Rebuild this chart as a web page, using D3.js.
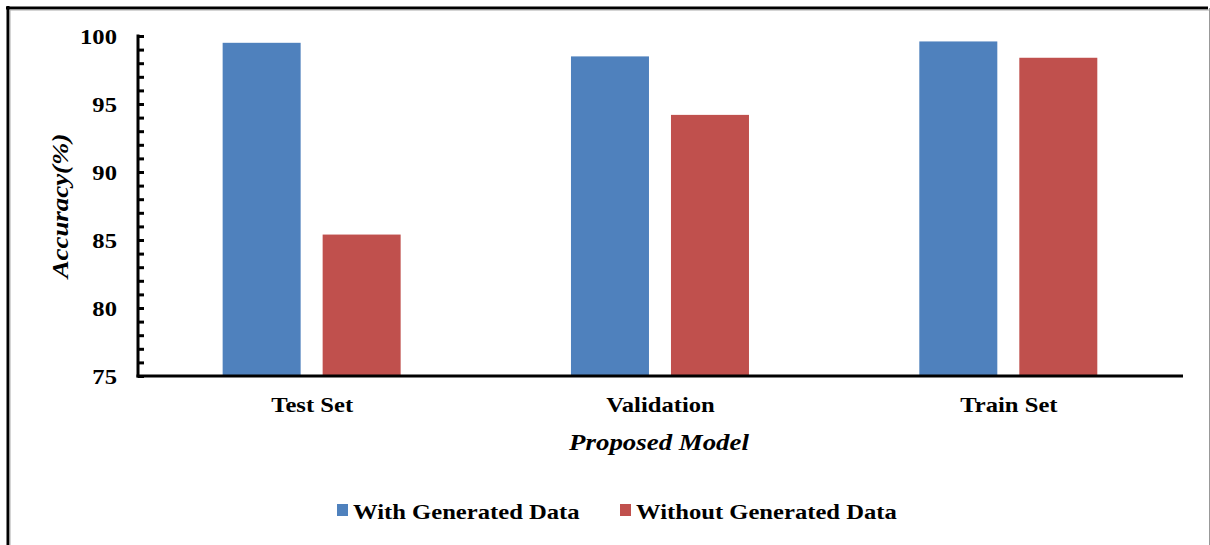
<!DOCTYPE html>
<html>
<head>
<meta charset="utf-8">
<script src="https://cdn.jsdelivr.net/npm/d3@7"></script>
<style>
  html, body { margin: 0; padding: 0; background: #fff; }
  svg { display: block; }
  text { font-family: "Liberation Serif", "Times New Roman", serif; font-weight: bold; fill: #000; }
</style>
</head>
<body>
<svg id="chart" width="1210" height="545"></svg>
<script>
// Accuracy of the proposed model, with and without generated data
const categories = ["Test Set", "Validation", "Train Set"];
const seriesNames = ["With Generated Data", "Without Generated Data"];
const withGenerated = [99.5, 98.5, 99.6];
const withoutGenerated = [85.4, 94.2, 98.4];
const yTicks = [75, 80, 85, 90, 95, 100];
const colors = ["#4F81BD", "#C0504D"];

const svg = d3.select("#chart");
const W = 1210, H = 545;
const SX = 1.12; // horizontal stretch of the lettering

// places a text at (x, y) with a slight horizontal stretch
function label(sel, x, y, rot) {
  return sel.attr("transform", `translate(${x},${y})${rot ? ` rotate(${rot})` : ""} scale(${SX},1)`);
}

// outer frame
svg.append("line").attr("x1", 6).attr("x2", 1208).attr("y1", 8).attr("y2", 8)
  .attr("stroke", "#000").attr("stroke-width", 3);
svg.append("line").attr("x1", 8).attr("x2", 8).attr("y1", 6).attr("y2", H)
  .attr("stroke", "#000").attr("stroke-width", 3);
svg.append("line").attr("x1", 9.5).attr("x2", 1209).attr("y1", 10).attr("y2", 10)
  .attr("stroke", "#aaa").attr("stroke-width", 1);
svg.append("line").attr("x1", 10).attr("x2", 10).attr("y1", 10).attr("y2", H)
  .attr("stroke", "#aaa").attr("stroke-width", 1);
svg.append("line").attr("x1", 1209.5).attr("x2", 1209.5).attr("y1", 8).attr("y2", H)
  .attr("stroke", "#999").attr("stroke-width", 1);

const plot = { left: 138, right: 1183, top: 36, bottom: 376 };

const x = d3.scaleBand().domain(categories).range([plot.left, plot.right]);
const inner = d3.scaleBand().domain(seriesNames)
  .range([x.bandwidth() * 0.243, x.bandwidth() * 0.754]).paddingInner(0.22);
const y = d3.scaleLinear().domain([75, 100]).range([plot.bottom, plot.top]);

// bars
const data = categories.map((c, i) => ({ c, vals: [withGenerated[i], withoutGenerated[i]] }));
const groups = svg.append("g").selectAll("g").data(data).join("g")
  .attr("transform", d => `translate(${x(d.c)},0)`);
groups.selectAll("rect").data(d => d.vals.map((v, j) => ({ v, j })))
  .join("rect")
  .attr("x", d => inner(seriesNames[d.j]))
  .attr("width", inner.bandwidth())
  .attr("y", d => y(d.v))
  .attr("height", d => y(75) - y(d.v))
  .attr("fill", d => colors[d.j]);

// y axis with minor ticks pointing inward
const yAxis = svg.append("g").attr("transform", `translate(${plot.left},0)`);
yAxis.call(d3.axisRight(y).tickValues(d3.range(75, 101, 1)).tickSize(6).tickFormat(""))
  .call(g => g.select(".domain").remove())
  .call(g => g.selectAll(".tick line").attr("stroke", "#000").attr("stroke-width", 3));
yAxis.append("line").attr("x1", 0).attr("x2", 0).attr("y1", plot.top - 1.5).attr("y2", plot.bottom + 1.5)
  .attr("stroke", "#000").attr("stroke-width", 3);
svg.append("g").selectAll("text").data(yTicks).join("text")
  .each(function (d) { label(d3.select(this), 117, y(d)); })
  .attr("dy", "0.35em")
  .attr("text-anchor", "end").attr("font-size", 22).text(d => d);

// x axis
svg.append("line").attr("x1", plot.left - 1.5).attr("x2", plot.right).attr("y1", plot.bottom).attr("y2", plot.bottom)
  .attr("stroke", "#000").attr("stroke-width", 3);
svg.append("g").selectAll("text").data(categories).join("text")
  .each(function (d) { label(d3.select(this), x(d) + x.bandwidth() / 2, 412); })
  .attr("text-anchor", "middle").attr("font-size", 22).text(d => d);

// axis titles
label(svg.append("text"), 659, 450)
  .attr("text-anchor", "middle").attr("font-size", 24).attr("font-style", "italic")
  .text("Proposed Model");
label(svg.append("text"), 68, 206, -90)
  .attr("text-anchor", "middle").attr("font-size", 24).attr("font-style", "italic")
  .text("Accuracy(%)");

// legend
const legendX = [337, 620];
const lg = svg.append("g").selectAll("g").data(seriesNames).join("g")
  .attr("transform", (d, i) => `translate(${legendX[i]},504)`);
lg.append("rect").attr("width", 11).attr("height", 12).attr("fill", (d, i) => colors[i]);
lg.append("text").each(function () { label(d3.select(this), 16, 15); })
  .attr("font-size", 22).text(d => d);
</script>
</body>
</html>
